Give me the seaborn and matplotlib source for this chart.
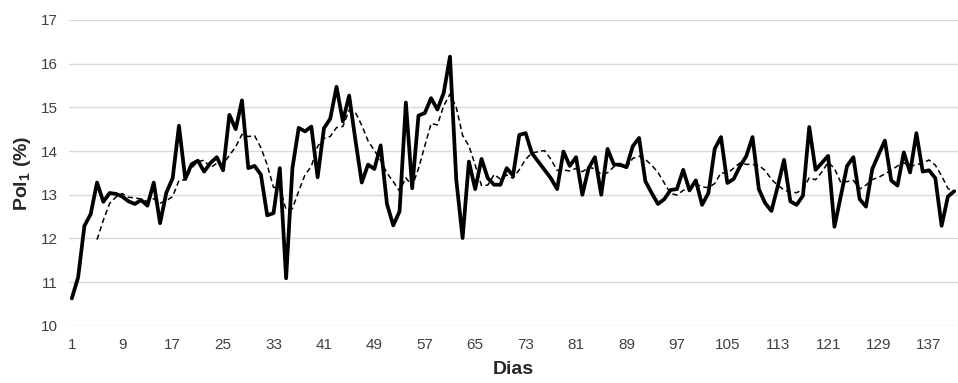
import numpy as np
import pandas as pd
import matplotlib
matplotlib.use("Agg")
import matplotlib.pyplot as plt
import seaborn as sns

days = list(range(1, 142))
pol = [10.63, 11.11, 12.29, 12.56, 13.28, 12.84, 13.04, 13.02, 12.96, 12.85,
       12.79, 12.88, 12.75, 13.28, 12.35, 13.05, 13.38, 14.58, 13.36, 13.70,
       13.78, 13.53, 13.73, 13.86, 13.56, 14.83, 14.50, 15.16, 13.61, 13.66,
       13.46, 12.53, 12.58, 13.61, 11.09, 13.61, 14.53, 14.45, 14.56, 13.40,
       14.52, 14.74, 15.47, 14.68, 15.27, 14.25, 13.28, 13.69, 13.59, 14.13,
       12.79, 12.30, 12.62, 15.11, 13.15, 14.81, 14.87, 15.21, 14.95, 15.33,
       16.16, 13.34, 12.01, 13.76, 13.13, 13.82, 13.38, 13.23, 13.23, 13.61,
       13.44, 14.37, 14.41, 13.95, 13.76, 13.57, 13.38, 13.13, 13.99, 13.66,
       13.86, 13.00, 13.61, 13.86, 13.00, 14.05, 13.69, 13.69, 13.63, 14.11,
       14.30, 13.31, 13.04, 12.79, 12.90, 13.11, 13.13, 13.57, 13.10, 13.33,
       12.77, 13.04, 14.05, 14.32, 13.27, 13.36, 13.65, 13.88, 14.32, 13.13,
       12.81, 12.63, 13.19, 13.80, 12.85, 12.77, 12.98, 14.55, 13.57, 13.73,
       13.89, 12.27, 12.96, 13.66, 13.86, 12.90, 12.73, 13.59, 13.92, 14.24,
       13.33, 13.21, 13.97, 13.51, 14.41, 13.53, 13.56, 13.38, 12.29, 12.96,
       13.08]
x_ticks = list(range(1, 142, 8))
y_ticks = [10, 11, 12, 13, 14, 15, 16, 17]

df = pd.DataFrame({"dia": days, "pol": pol})
df["mm"] = df["pol"].rolling(5).mean()

sns.set_style("white")
plt.rcParams["font.family"] = ["Liberation Sans", "DejaVu Sans"]
plt.rcParams["mathtext.fontset"] = "custom"
plt.rcParams["mathtext.rm"] = "Liberation Sans"
plt.rcParams["mathtext.bf"] = "Liberation Sans:bold"

fig = plt.figure(figsize=(9.58, 3.83), dpi=100)
ax = fig.add_axes([0.072, 0.149, 0.928, 0.799])

for v in y_ticks:
    ax.axhline(v, color="#d9d9d9", lw=1.0, zorder=0)

sns.lineplot(data=df, x="dia", y="pol", ax=ax, color="black", lw=2.7, zorder=3)
sns.lineplot(data=df, x="dia", y="mm", ax=ax, color="black", lw=1.1,
             dashes=False, zorder=4)
ax.lines[-1].set_linestyle((0, (3.5, 2.2)))

ax.set_xlim(0.55, 141.6)
ax.set_ylim(10, 17)
ax.set_xticks(x_ticks)
ax.set_yticks(y_ticks)
ax.tick_params(axis="both", length=0, labelsize=11, colors="#404040")
ax.tick_params(axis="x", pad=9)
ax.tick_params(axis="y", pad=8)
for s in ax.spines.values():
    s.set_visible(False)

ax.set_xlabel("Dias", fontsize=14, fontweight="bold", color="#262626", labelpad=6)
ax.set_ylabel(r"Pol$_{\mathbf{1}}$ (%)", fontsize=14, fontweight="bold",
              color="#262626", labelpad=6)

fig.savefig("out.png", dpi=100)
